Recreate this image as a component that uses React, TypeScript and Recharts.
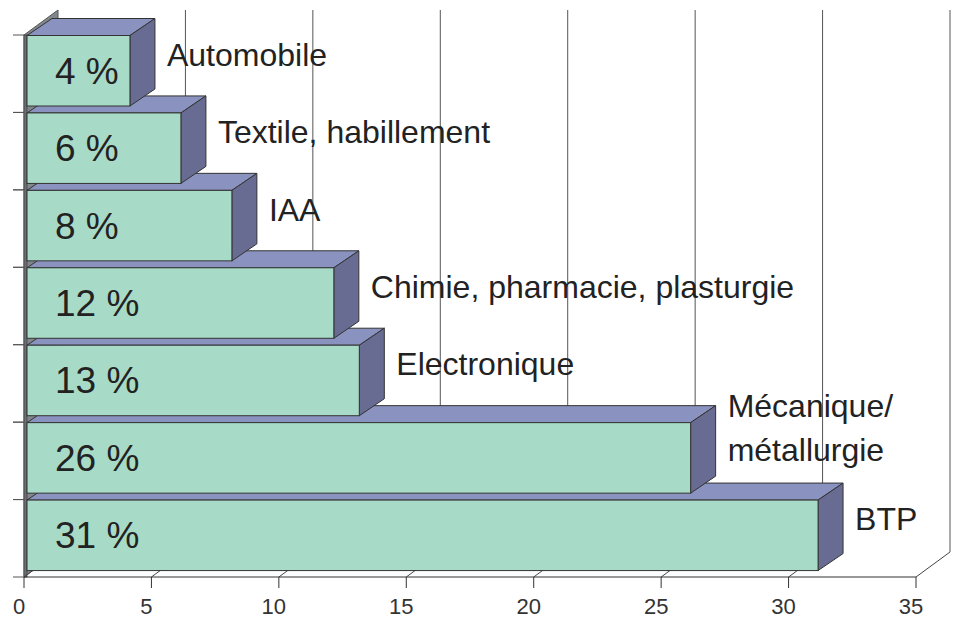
import { Bar, BarChart, CartesianGrid, XAxis, YAxis } from "recharts";

// Share of each sector, listed top to bottom as in the chart
const sectors = [
  "Automobile",
  "Textile, habillement",
  "IAA",
  "Chimie, pharmacie, plasturgie",
  "Electronique",
  "Mécanique/\nmétallurgie",
  "BTP",
];
const shares = [4, 6, 8, 12, 13, 26, 31];
const xTicks = [0, 5, 10, 15, 20, 25, 30, 35];

// bottom bar first so the upper bars paint over the lower bars' top faces
const data = sectors.map((sector, i) => ({ sector, share: shares[i] })).reverse();

const W = 957;
const H = 617;
const M = { top: 35, right: 41, bottom: 0, left: 0 };
const Y_AXIS_W = 24;
const X_AXIS_H = 40;
const PLOT_TOP = M.top;
const PLOT_BOTTOM = H - M.bottom - X_AXIS_H;

// depth of the bars and of the back wall
const BAR_DX = 25;
const BAR_DY = 17;
const WALL_DX = 34;
const WALL_DY = 25;

const FRONT = "#a8dbc7";
const TOP = "#8a92bf";
const SIDE = "#686c92";
const EDGE = "#333";
const FONT = "'Liberation Sans', Arial, sans-serif";

function BackGrid(props: any) {
  const { x1, y1, y2, index } = props;
  const bx = x1 + WALL_DX;
  return (
    <g key={`grid-${index}`}>
      {index === 0 && (
        <>
          <polygon
            points={`${x1},${y2} ${bx},${y2 - WALL_DY} ${bx},${y1 - WALL_DY} ${x1},${y1}`}
            fill="#82878c"
            stroke="#555"
            strokeWidth={1}
          />
          <rect x={x1} y={y1} width={3} height={y2 - y1} fill="#6a7075" stroke="#444" strokeWidth={0.8} />
        </>
      )}
      {index !== 0 && (
        <line x1={bx} y1={y1 - WALL_DY} x2={bx} y2={y2 - WALL_DY} stroke="#555" strokeWidth={1} />
      )}
      <line x1={x1} y1={y2} x2={bx} y2={y2 - WALL_DY} stroke="#444" strokeWidth={1} />
    </g>
  );
}

function Bar3D(props: any) {
  const { x, y, width, height, payload } = props;
  const x0 = x + 3;
  const x1 = x + width + 4;
  const y0 = y + 0.5;
  const y1 = y + height - 6;
  const mid = (y0 + y1) / 2;
  const lines = String(payload.sector).split("\n");
  const lx = x1 + BAR_DX + 12;
  const base = mid - 5 - (lines.length > 1 ? 14 : 0);
  return (
    <g>
      <polygon
        points={`${x0},${y0} ${x0 + BAR_DX},${y0 - BAR_DY} ${x1 + BAR_DX},${y0 - BAR_DY} ${x1},${y0}`}
        fill={TOP}
        stroke={EDGE}
        strokeWidth={1}
        strokeLinejoin="round"
      />
      <polygon
        points={`${x1},${y0} ${x1 + BAR_DX},${y0 - BAR_DY} ${x1 + BAR_DX},${y1 - BAR_DY} ${x1},${y1}`}
        fill={SIDE}
        stroke={EDGE}
        strokeWidth={1}
        strokeLinejoin="round"
      />
      <rect x={x0} y={y0} width={x1 - x0} height={y1 - y0} fill={FRONT} stroke={EDGE} strokeWidth={1} />
      <text x={x0 + 28} y={mid + 13} fontSize={37} fontFamily={FONT} fill="#222">
        {`${payload.share} %`}
      </text>
      {lines.map((line, i) => (
        <text
          key={line}
          x={lx}
          y={base + (i - (lines.length - 1) / 2) * 44}
          fontSize={32}
          fontFamily={FONT}
          fill="#222"
        >
          {line}
        </text>
      ))}
    </g>
  );
}

function BandTick(props: any) {
  const { y, payload } = props;
  const half = payload?.offset || (PLOT_BOTTOM - PLOT_TOP) / sectors.length / 2;
  const left = Y_AXIS_W - 11;
  return (
    <g>
      <line x1={left} y1={y - half} x2={Y_AXIS_W} y2={y - half} stroke="#555" />
      <line x1={left} y1={y + half} x2={Y_AXIS_W} y2={y + half} stroke="#555" />
    </g>
  );
}

export default function App() {
  return (
    <div style={{ position: "absolute", left: 0, top: 0, width: W, height: H, background: "#fff" }}>
      <BarChart width={W} height={H} data={data} layout="vertical" margin={M} barCategoryGap={0}>
        <CartesianGrid horizontal={false} vertical={BackGrid} />
        <XAxis
          type="number"
          domain={[0, 35]}
          ticks={xTicks}
          interval={0}
          height={X_AXIS_H}
          tickSize={11}
          tickMargin={10}
          axisLine={{ stroke: EDGE }}
          tickLine={{ stroke: EDGE }}
          tick={{ fontSize: 22, fontFamily: FONT, fill: "#333", dx: -5 }}
        />
        <YAxis
          type="category"
          dataKey="sector"
          reversed
          width={Y_AXIS_W}
          axisLine={false}
          tickLine={false}
          tick={BandTick}
        />
        <Bar dataKey="share" shape={Bar3D} isAnimationActive={false} />
      </BarChart>
    </div>
  );
}
